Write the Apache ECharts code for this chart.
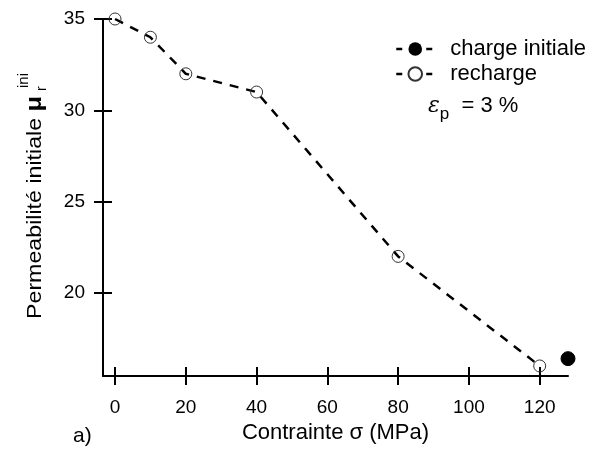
<!DOCTYPE html>
<html><head><meta charset="utf-8">
<script src="https://cdn.jsdelivr.net/npm/echarts@6/dist/echarts.min.js"></script>
<style>html,body{margin:0;padding:0;background:#fff}#c{width:612px;height:457px}</style>
</head><body><div id="c"></div>
<script>
const xRecharge = [0, 10, 20, 40, 80, 120];
const yRecharge = [35, 34, 32, 31, 22, 16];
const xCharge = [128];
const yCharge = [16.4];
const xTicks = [0, 20, 40, 60, 80, 100, 120];
const yTicks = [20, 25, 30, 35];

const FONT = 'Liberation Sans, Arial, sans-serif';
const chart = echarts.init(document.getElementById('c'));
const xMin = -3.4, xMax = 128, yMin = 15.45, yMax = 35;

function xAxisBase(extra) {
  return Object.assign({type: 'value', min: xMin, max: xMax, gridIndex: 0, splitLine: {show: false}}, extra);
}
function yAxisBase(extra) {
  return Object.assign({type: 'value', min: yMin, max: yMax, gridIndex: 0, splitLine: {show: false}}, extra);
}
const tickStyle = {color: '#000', width: 2};

chart.setOption({
  animation: false,
  backgroundColor: '#fff',
  grid: {left: 103, right: 44, top: 19, bottom: 81},
  xAxis: [
    xAxisBase({
      axisLine: {show: true, onZero: false, lineStyle: {color: '#000', width: 2}},
      axisTick: {show: true, customValues: xTicks, length: 9, lineStyle: tickStyle},
      axisLabel: {show: true, customValues: xTicks, margin: 22, color: '#000', fontSize: 19, fontFamily: FONT},
      name: 'Contrainte σ (MPa)', nameLocation: 'middle', nameGap: 46,
      nameTextStyle: {color: '#000', fontSize: 22, fontFamily: FONT}
    }),
    xAxisBase({
      position: 'bottom',
      axisLine: {show: false, onZero: false},
      axisTick: {show: true, inside: true, customValues: xTicks, length: 9, lineStyle: tickStyle},
      axisLabel: {show: false}
    })
  ],
  yAxis: [
    yAxisBase({
      axisLine: {show: true, onZero: false, lineStyle: {color: '#000', width: 2}},
      axisTick: {show: true, customValues: yTicks, length: 9, lineStyle: tickStyle},
      axisLabel: {show: true, customValues: yTicks, margin: 18, color: '#000', fontSize: 19, fontFamily: FONT}
    }),
    yAxisBase({
      position: 'left',
      axisLine: {show: false, onZero: false},
      axisTick: {show: true, inside: true, customValues: yTicks, length: 9, lineStyle: tickStyle},
      axisLabel: {show: false}
    })
  ],
  legend: {
    orient: 'vertical', left: 390, top: 33, itemWidth: 38, itemHeight: 17, itemGap: 3,
    lineStyle: {type: [6, 24, 6], width: 2.5},
    textStyle: {color: '#000', fontSize: 22, fontFamily: FONT, padding: [0, 0, 0, 11]},
    data: ['charge initiale', 'recharge']
  },
  series: [
    {
      name: 'recharge', type: 'line',
      data: xRecharge.map((x, i) => [x, yRecharge[i]]),
      symbol: 'circle', symbolSize: 12,
      lineStyle: {color: '#000', width: 2.5, type: [9, 8]},
      itemStyle: {color: 'rgba(255,255,255,0)', borderColor: '#333', borderWidth: 1},
      z: 2
    },
    {
      name: 'charge initiale', type: 'line',
      data: xCharge.map((x, i) => [x, yCharge[i]]),
      symbol: 'circle', symbolSize: 14,
      lineStyle: {color: '#000', width: 2.5, type: [9, 8]},
      itemStyle: {color: '#000', borderColor: '#000'},
      z: 3
    }
  ],
  graphic: [
    {
      type: 'text', x: 35, y: 319, rotation: Math.PI / 2, scaleX: 1.16,
      style: {
        text: 'Permeabilité initiale {m|μ}',
        align: 'left', verticalAlign: 'middle', fill: '#000',
        fontSize: 20, fontFamily: FONT,
        rich: {
          m: {fontSize: 22, fontWeight: 'bold', fontFamily: FONT, fill: '#000'}
        }
      }
    },
    {
      type: 'text', x: 42, y: 91, rotation: Math.PI / 2,
      style: {text: 'r', align: 'left', verticalAlign: 'middle', fill: '#000', fontSize: 14, fontFamily: FONT}
    },
    {
      type: 'text', x: 24, y: 88, rotation: Math.PI / 2,
      style: {text: 'ini', align: 'left', verticalAlign: 'middle', fill: '#000', fontSize: 15, fontFamily: FONT}
    },
    {
      type: 'text', left: 428, top: 95,
      style: {
        text: '{e|ε}{p|p}{t|  = 3 %}', fill: '#000',
        rich: {
          e: {fontSize: 22, fontStyle: 'italic', fontFamily: 'DejaVu Serif, serif', fill: '#000', lineHeight: 34, verticalAlign: 'middle'},
          p: {fontSize: 17, fontFamily: FONT, fill: '#000', lineHeight: 34, verticalAlign: 'bottom'},
          t: {fontSize: 22, fontFamily: FONT, fill: '#000', lineHeight: 34, verticalAlign: 'middle'}
        }
      }
    },
    {
      type: 'text', left: 73, top: 426,
      style: {text: 'a)', fontSize: 21, fontFamily: FONT, fill: '#000'}
    }
  ]
});
</script></body></html>
